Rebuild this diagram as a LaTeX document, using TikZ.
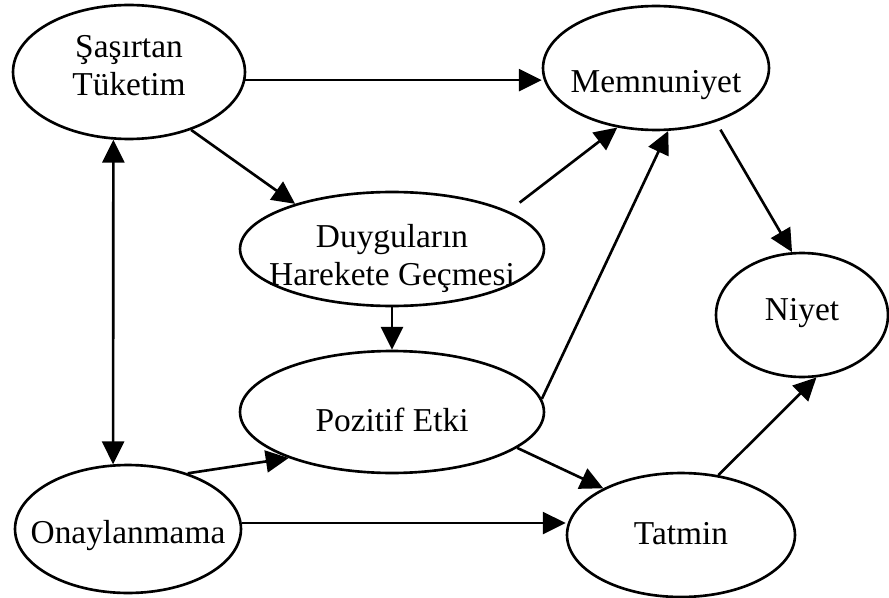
\documentclass[tikz,border=0pt]{standalone}
\usepackage{fontspec}
\setmainfont{Liberation Serif}
\usetikzlibrary{shapes.geometric}
\usetikzlibrary{arrows.meta}

\newcommand{\ovtxt}[2][-0.25cm]{\raisebox{#1}[0pt][0pt]{\makebox[0pt]{\begin{tabular}{@{}c@{}}#2\end{tabular}}}}

\begin{document}
\begin{tikzpicture} [x=0.02cm, y=-0.02cm, line width=1.5pt, >={Triangle[length=13pt,width=12.5pt]},
 oval/.style={draw, ellipse, inner sep=0pt, font=\fontsize{19}{21.5}\selectfont}]
\useasboundingbox (0,0) rectangle (889,598);
\node[oval, minimum width=4.64cm, minimum height=2.68cm] (sas) at (129,72) {\ovtxt[-0.09cm]{Şaşırtan\\Tüketim}};
\node[oval, minimum width=4.52cm, minimum height=2.48cm] (mem) at (656,68) {\ovtxt[-0.49cm]{Memnuniyet}};
\node[oval, minimum width=6.08cm, minimum height=2.28cm] (duy) at (392,249) {\ovtxt[-0.35cm]{Duyguların\\Harekete Geçmesi}};
\node[oval, minimum width=3.44cm, minimum height=2.48cm] (niy) at (802,315) {\ovtxt[-0.11cm]{Niyet}};
\node[oval, minimum width=6.08cm, minimum height=2.44cm] (poz) at (392,412) {\ovtxt[-0.39cm]{Pozitif Etki}};
\node[oval, minimum width=4.52cm, minimum height=2.56cm] (onay) at (128,529) {\ovtxt[-0.29cm]{Onaylanmama}};
\node[oval, minimum width=4.56cm, minimum height=2.48cm] (tat) at (681,535) {\ovtxt[-0.19cm]{Tatmin}};

\draw[->] (sas.-4) -- (sas.-4 -| mem.west);
\draw[->] (sas.-43) -- (duy.155);
\draw[<->] (sas.257) -- (onay.103);
\draw[->, shorten <=0.28cm] (duy.18) -- (mem.237);
\draw[->] (duy) -- (poz);
\draw[->] (poz.5) -- (mem.281);
\draw[->] (poz.-16) -- (tat.149);
\draw[->] (onay.43) -- (poz.204);
\draw[->] (onay.3) -- (onay.3 -| tat.west);
\draw[->, shorten <=0.18cm] (mem.-42) -- (niy.99);
\draw[->] (tat.58) -- (niy.-77);
\end{tikzpicture}
\end{document}
